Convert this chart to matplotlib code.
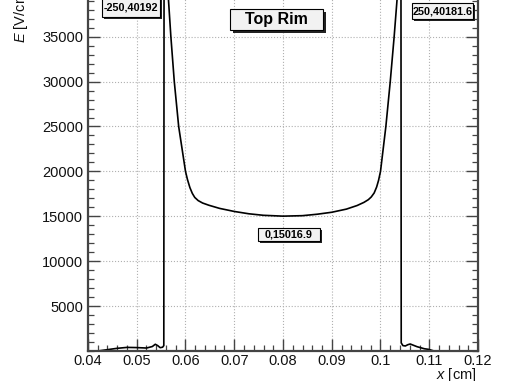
import numpy as np
import matplotlib
matplotlib.use("Agg")
import matplotlib.pyplot as plt
from matplotlib.patches import Rectangle

plt.rcParams['font.family'] = ['Liberation Sans', 'DejaVu Sans']
plt.rcParams['mathtext.fontset'] = 'custom'
plt.rcParams['mathtext.rm'] = 'Liberation Sans'
plt.rcParams['mathtext.it'] = 'Liberation Sans:italic'

# field along the top rim (x in cm, E in V/cm)
x_cm = [0.0400, 0.0420, 0.0440, 0.0460, 0.0480, 0.0500, 0.0520, 0.0532,
        0.0538, 0.0543, 0.0548, 0.0553, 0.05555, 0.0556, 0.0565, 0.0570,
        0.0577, 0.0586, 0.0600, 0.0604, 0.0609, 0.0614, 0.0619, 0.0626,
        0.0635, 0.0648, 0.0670, 0.0700, 0.0730, 0.0760, 0.0800, 0.0840,
        0.0870, 0.0900, 0.0930, 0.0952, 0.0966, 0.0975, 0.0981, 0.0987,
        0.0992, 0.0996, 0.1000, 0.1011, 0.1020, 0.1028, 0.1034, 0.1042,
        0.10425, 0.1046, 0.1051, 0.1056, 0.1061, 0.1067, 0.1075, 0.1090,
        0.1098, 0.1110, 0.1200]
e_field = [0, 0, 150, 300, 400, 380, 330, 500,
           750, 600, 370, 420, 600, 40192, 39170, 35000,
           30000, 25000, 20000, 19100, 18200, 17550, 17100, 16750,
           16480, 16230, 15880, 15540, 15280, 15110, 15017, 15070,
           15230, 15450, 15800, 16200, 16550, 16850, 17150, 17600,
           18250, 19000, 20000, 25000, 30000, 35000, 39170, 40181.6,
           900, 600, 560, 700, 780, 650, 480, 250,
           190, 0, 0]

x_ticks = [0.04, 0.05, 0.06, 0.07, 0.08, 0.09, 0.10, 0.11, 0.12]
x_tick_labels = ['0.04', '0.05', '0.06', '0.07', '0.08', '0.09', '0.1', '0.11', '0.12']
y_ticks = [5000, 10000, 15000, 20000, 25000, 30000, 35000]
y_tick_labels = ['5000', '10000', '15000', '20000', '25000', '30000', '35000']

W, H = 513, 381
fig = plt.figure(figsize=(W / 100, H / 100), dpi=100)

# axes run off the top of the picture, as in the cropped original
y_top = 42000
px_per_unit = 44.9 / 5000
bottom_px = 351
top_px = bottom_px - y_top * px_per_unit
ax = fig.add_axes([88 / W, (H - bottom_px) / H, (478 - 88) / W, (bottom_px - top_px) / H])

ax.plot(x_cm, e_field, color='black', lw=1.2)
ax.set_xlim(0.04, 0.12)
ax.set_ylim(0, y_top)

ax.set_xticks(x_ticks)
ax.set_xticklabels(x_tick_labels)
ax.set_yticks(y_ticks)
ax.set_yticklabels(y_tick_labels)
ax.set_xticks(np.arange(0.04, 0.1201, 0.002), minor=True)
ax.set_yticks(np.arange(0, y_top + 1, 1000), minor=True)

ax.tick_params(which='both', direction='in', top=True, right=True,
               color='#444444', labelsize=10.5, labelcolor='#111111')
ax.tick_params(which='major', length=8.5, width=1.0)
ax.tick_params(which='minor', length=4.5, width=0.9)
ax.tick_params(axis='y', pad=3.5)
ax.tick_params(axis='x', pad=2.5)

ax.grid(True, which='major', linestyle=':', color='#b0b0b0', lw=0.8)
for s in ax.spines.values():
    s.set_color('#444444')
    s.set_linewidth(1.6)

fig.text(21 / W, 1 - 43 / H, '$E$ [V/cm]', rotation=90, ha='center', va='bottom',
         fontsize=10.5, color='#111111')
fig.text(477 / W, 1 - 378.5 / H, '$x$ [cm]', ha='right', va='baseline',
         fontsize=10.5, color='#111111')


def note(text, x0, y0, x1, y1, size, shadow=3):
    # ROOT-style pave: black drop shadow, light box, bold text
    fig.add_artist(Rectangle(((x0 + shadow) / W, 1 - (y1 + shadow) / H),
                             (x1 - x0) / W, (y1 - y0) / H,
                             transform=fig.transFigure, facecolor='#222222',
                             edgecolor='none', zorder=5))
    fig.add_artist(Rectangle((x0 / W, 1 - y1 / H), (x1 - x0) / W, (y1 - y0) / H,
                             transform=fig.transFigure, facecolor='#f2f2f2',
                             edgecolor='black', lw=0.8, zorder=6))
    fig.text((x0 + x1) / 2 / W, 1 - (y0 + y1) / 2 / H, text, ha='center',
             va='center', fontsize=size, fontweight='bold', color='black', zorder=7)


note('Top Rim', 230, 9, 323, 30, 11.5)
note('-250,40192', 102, -3, 160, 17, 7.8, shadow=2)
note('250,40181.6', 412, 3, 473, 19, 7.8, shadow=2)
note('0,15016.9', 258, 228, 320, 241, 7.8, shadow=2)

fig.savefig('out.png', dpi=100)
